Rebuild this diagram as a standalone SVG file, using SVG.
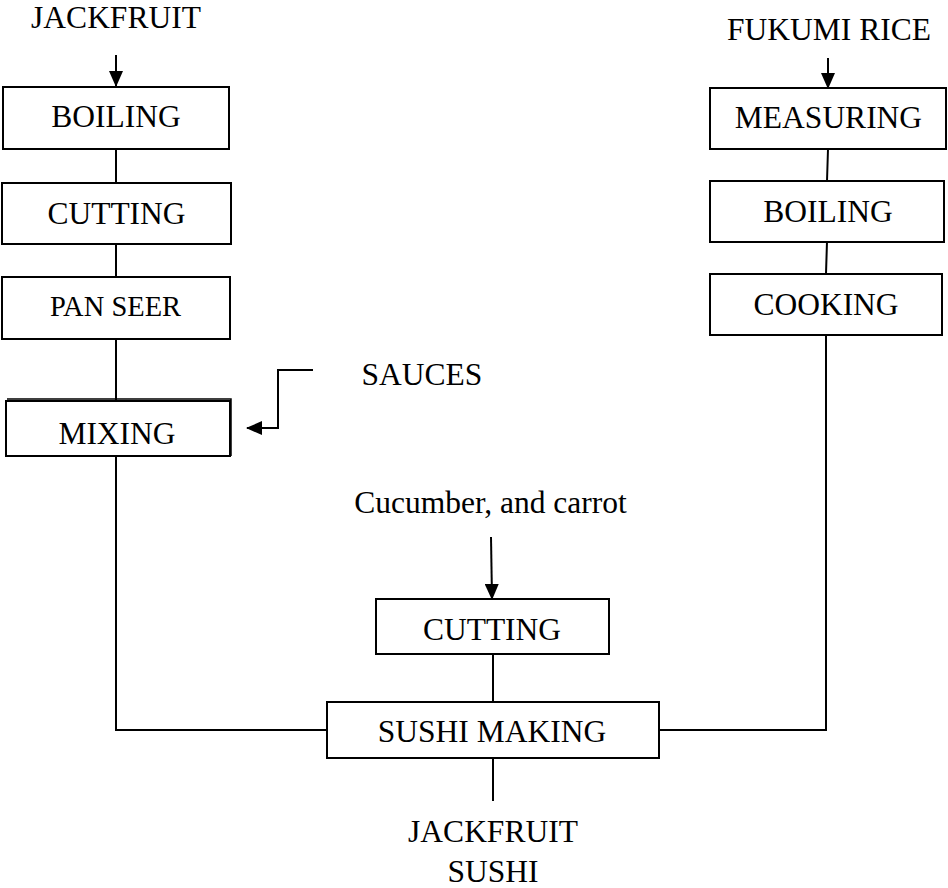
<svg xmlns="http://www.w3.org/2000/svg" width="948" height="888" viewBox="0 0 948 888">
<style>
  .box{fill:#fff;stroke:#000;stroke-width:2}
  .ln{fill:none;stroke:#000;stroke-width:2}
  text{font-family:"Liberation Serif","Times New Roman",serif;font-size:31.5px;fill:#000;text-anchor:middle}
</style>
<defs>
  <marker id="ah" markerWidth="16" markerHeight="14" refX="15" refY="7" orient="auto" markerUnits="userSpaceOnUse">
    <path d="M0,0 L16,7 L0,14 Z" fill="#000"/>
  </marker>
</defs>
<rect width="948" height="888" fill="#fff"/>
<g id="connectors">
  <line class="ln" x1="116" y1="55" x2="116" y2="86" marker-end="url(#ah)"/>
  <line class="ln" x1="116" y1="150" x2="116" y2="183"/>
  <line class="ln" x1="116" y1="244" x2="116" y2="277"/>
  <line class="ln" x1="116" y1="339" x2="116" y2="400"/>
  <polyline class="ln" points="116,456 116,730 327,730"/>
  <polyline class="ln" points="313,370 278,370 278,428 247,428" marker-end="url(#ah)"/>
  <line class="ln" x1="828" y1="58" x2="828" y2="88" marker-end="url(#ah)"/>
  <line class="ln" x1="828" y1="149" x2="827" y2="181"/>
  <line class="ln" x1="827" y1="242" x2="826" y2="274"/>
  <polyline class="ln" points="826,335 826,730 659,730"/>
  <line class="ln" x1="491" y1="537" x2="492" y2="599" marker-end="url(#ah)"/>
  <line class="ln" x1="493" y1="654" x2="493" y2="702"/>
  <line class="ln" x1="493" y1="758" x2="493" y2="801"/>
</g>
<g id="jackfruit-in"><text x="116" y="28">JACKFRUIT</text></g>
<g id="boiling1"><rect class="box" x="3" y="87" width="226" height="62"/><text x="116" y="127">BOILING</text></g>
<g id="cutting1"><rect class="box" x="2" y="183" width="229" height="61"/><text x="116.5" y="224">CUTTING</text></g>
<g id="panseer"><rect class="box" x="2" y="277" width="228" height="62"/><text x="115.5" y="316" style="font-size:28.5px">PAN SEER</text></g>
<g id="mixing"><rect class="box" x="6" y="401" width="224" height="55"/><polyline class="ln" points="7,399 231,399 231,456" style="stroke-width:1.5"/><text x="117" y="444">MIXING</text></g>
<g id="sauces"><text x="422" y="385">SAUCES</text></g>
<g id="fukumi"><text x="829" y="40">FUKUMI RICE</text></g>
<g id="measuring"><rect class="box" x="710" y="88" width="236" height="61"/><text x="828.5" y="128">MEASURING</text></g>
<g id="boiling2"><rect class="box" x="710" y="181" width="234" height="61"/><text x="828" y="222">BOILING</text></g>
<g id="cooking"><rect class="box" x="710" y="274" width="232" height="61"/><text x="826" y="315">COOKING</text></g>
<g id="veg"><text x="490.5" y="513">Cucumber, and carrot</text></g>
<g id="cutting2"><rect class="box" x="376" y="599" width="233" height="55"/><text x="492" y="640">CUTTING</text></g>
<g id="sushimaking"><rect class="box" x="327" y="702" width="332" height="56"/><text x="492" y="742">SUSHI MAKING</text></g>
<g id="output"><text x="493" y="842">JACKFRUIT</text><text x="493" y="882">SUSHI</text></g>
</svg>
